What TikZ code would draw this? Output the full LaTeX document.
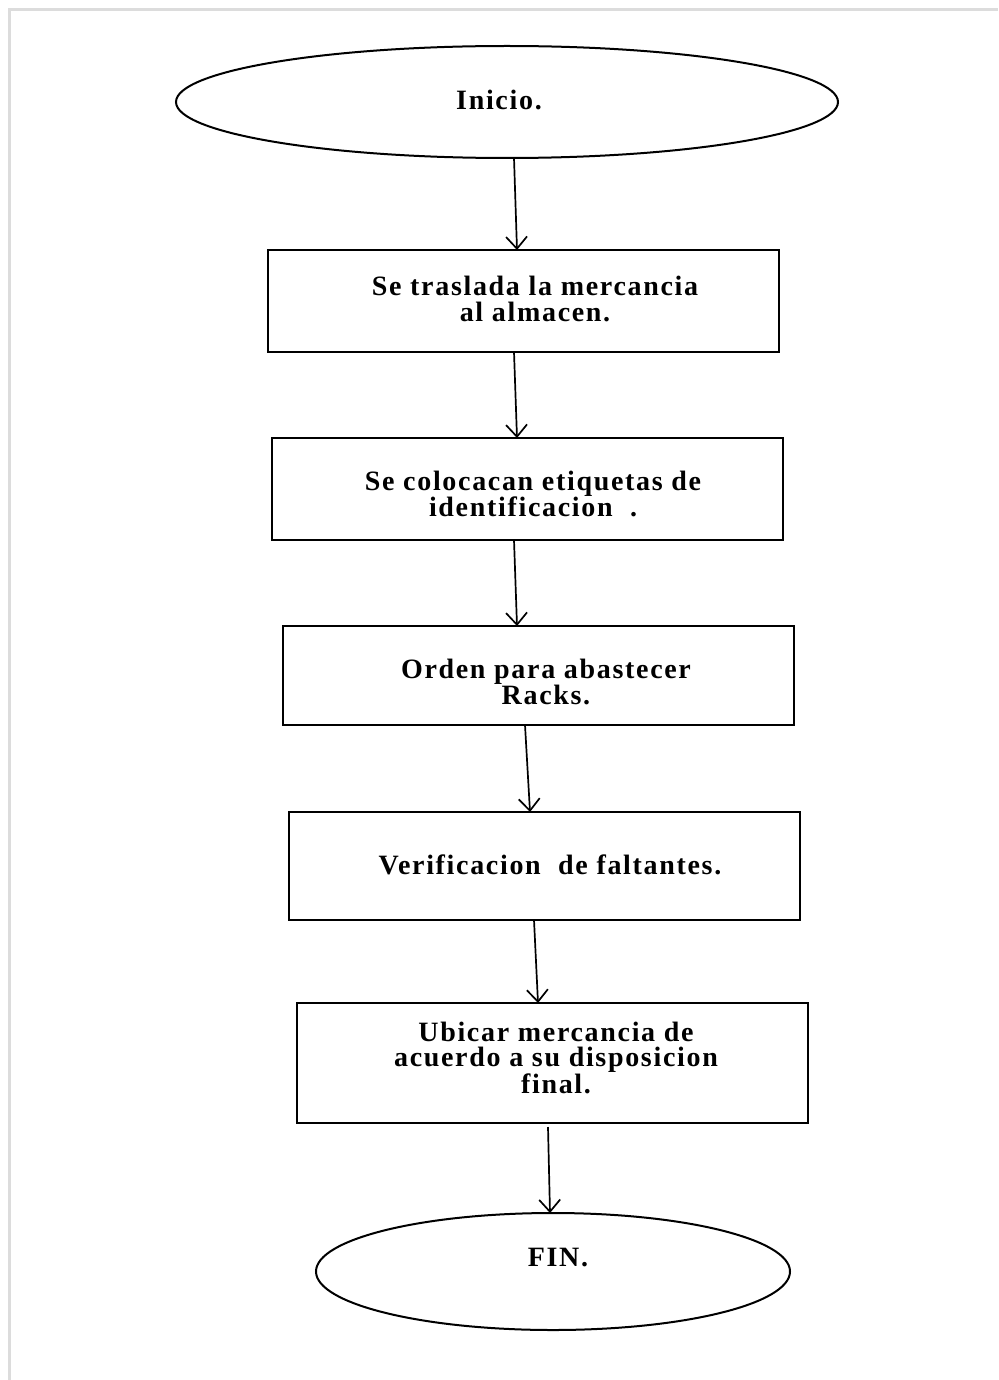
\documentclass[tikz,border=0pt]{standalone}
\usepackage{fontspec}
\setmainfont{Liberation Serif}
\newfontfamily\flowfont{Liberation Serif}[LetterSpace=6,BoldFont={Liberation Serif Bold}]
\usetikzlibrary{shapes.geometric,arrows.meta,calc}
\begin{document}
\begin{tikzpicture}[x=1pt,y=-1pt,
  shapeline/.style={draw=black,line width=2pt,outer sep=0pt,inner sep=0pt},
  boxnode/.style={shapeline,rectangle,minimum width=511pt},
  ovalnode/.style={shapeline,ellipse},
  txt/.style={font=\flowfont\fontsize{28}{25.5}\selectfont\bfseries,align=center,inner sep=0pt},
  arr/.style={line width=1.7pt,-{Straight Barb[length=12pt,width=21pt,line width=1.7pt]}},
  frameline/.style={draw={rgb,255:red,220;green,220;blue,220},line width=3pt}]
\useasboundingbox (0,0) rectangle (998,1380);
\coordinate (fA) at (9.5,1380);
\coordinate (fB) at (9.5,10);
\coordinate (fC) at (998,10);
\draw[frameline] (fA) -- (fB) -- (fC);

\node[ovalnode,minimum width=662pt,minimum height=112pt] (e1) at (507,102) {};
\node[boxnode,minimum height=102pt] (b1) at (523.5,301) {};
\node[boxnode,minimum height=102pt] (b2) at (527.5,489) {};
\node[boxnode,minimum height=99pt] (b3) at (538.5,675.5) {};
\node[boxnode,minimum height=108pt] (b4) at (544.5,866) {};
\node[boxnode,minimum height=120pt] (b5) at (552.5,1063) {};
\node[ovalnode,minimum width=474pt,minimum height=117pt] (e2) at (553,1271.5) {};

\node[txt] (t0) at (499,100) {Inicio.};
\node[txt] (t1) at (535,299) {Se traslada la mercancia\\al almacen.};
\node[txt] (t2) at (533,494) {Se colocacan etiquetas de\\identificacion\ \ .};
\node[txt] (t3) at (546,682) {Orden para abastecer\\Racks.};
\node[txt] (t4) at (550,865) {Verificacion\ \ de faltantes.};
\node[txt] (t5) at (556,1058) {Ubicar mercancia de\\acuerdo a su disposicion\\final.};
\node[txt] (t6) at (558,1258) {FIN.};

\draw[arr] ([xshift=7pt]e1.south) -- ([xshift=-6.5pt]b1.north);
\draw[arr] ([xshift=-9.5pt]b1.south) -- ([xshift=-10.5pt]b2.north);
\draw[arr] ([xshift=-13.5pt]b2.south) -- ([xshift=-21.5pt]b3.north);
\draw[arr] ([xshift=-13.5pt]b3.south) -- ([xshift=-14.5pt]b4.north);
\draw[arr] ([xshift=-10.5pt]b4.south) -- ([xshift=-14.5pt]b5.north);
\draw[arr] ([xshift=-4.5pt,yshift=-4pt]b5.south) -- ([xshift=-3pt]e2.north);
\end{tikzpicture}
\end{document}
